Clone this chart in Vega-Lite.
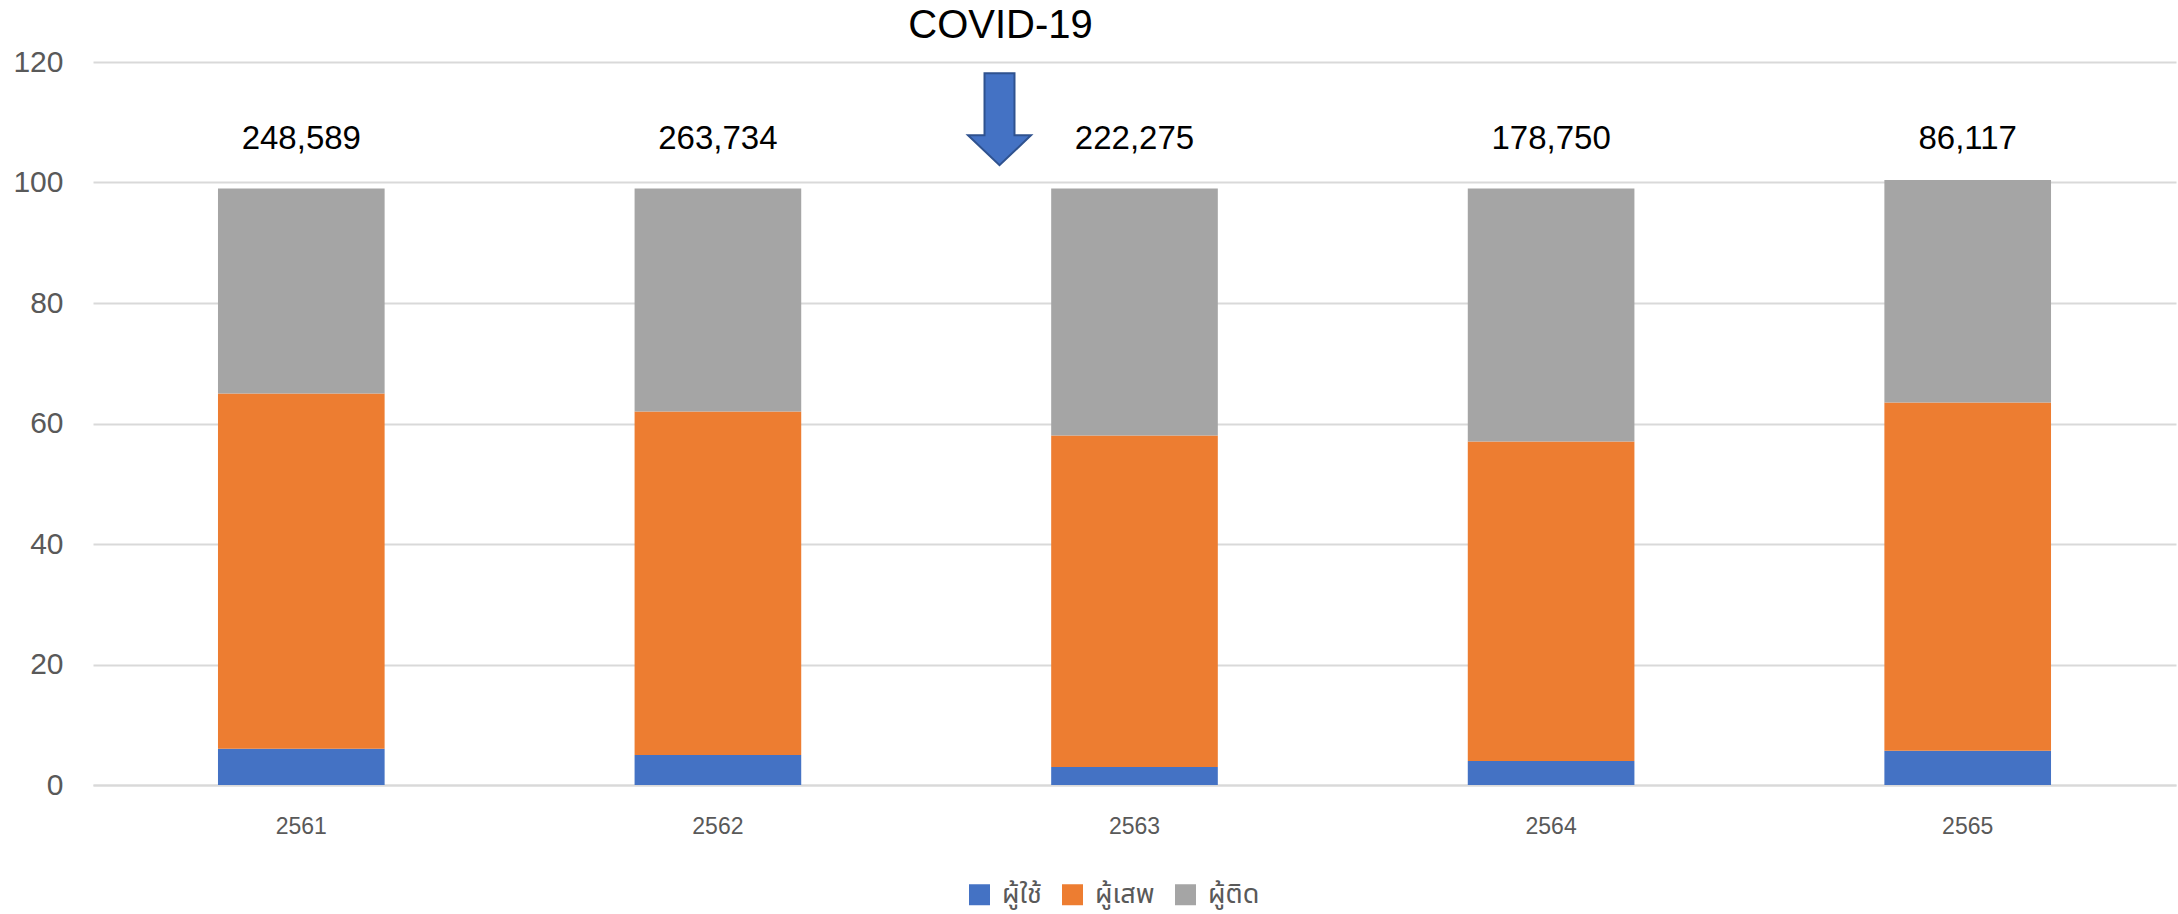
{
  "$schema": "https://vega.github.io/schema/vega-lite/v6.json",
  "autosize": "none",
  "width": 2083,
  "height": 723,
  "padding": {"left": 93, "top": 62, "right": 2, "bottom": 129},
  "background": "white",
  "datasets": {
    "parts": [
      {"year": "2561", "group": "ผู้ใช้", "rank": 1, "value": 6.0},
      {"year": "2561", "group": "ผู้เสพ", "rank": 2, "value": 59.0},
      {"year": "2561", "group": "ผู้ติด", "rank": 3, "value": 34.0},
      {"year": "2562", "group": "ผู้ใช้", "rank": 1, "value": 5.0},
      {"year": "2562", "group": "ผู้เสพ", "rank": 2, "value": 57.0},
      {"year": "2562", "group": "ผู้ติด", "rank": 3, "value": 37.0},
      {"year": "2563", "group": "ผู้ใช้", "rank": 1, "value": 3.0},
      {"year": "2563", "group": "ผู้เสพ", "rank": 2, "value": 55.0},
      {"year": "2563", "group": "ผู้ติด", "rank": 3, "value": 41.0},
      {"year": "2564", "group": "ผู้ใช้", "rank": 1, "value": 4.0},
      {"year": "2564", "group": "ผู้เสพ", "rank": 2, "value": 53.0},
      {"year": "2564", "group": "ผู้ติด", "rank": 3, "value": 42.0},
      {"year": "2565", "group": "ผู้ใช้", "rank": 1, "value": 5.7},
      {"year": "2565", "group": "ผู้เสพ", "rank": 2, "value": 57.8},
      {"year": "2565", "group": "ผู้ติด", "rank": 3, "value": 36.9}
    ],
    "totals": [
      {"year": "2561", "total": "248,589"},
      {"year": "2562", "total": "263,734"},
      {"year": "2563", "total": "222,275"},
      {"year": "2564", "total": "178,750"},
      {"year": "2565", "total": "86,117"}
    ],
    "note": [
      {"year": "2563", "label": "COVID-19"}
    ]
  },
  "config": {
    "view": {"stroke": null},
    "axis": {"labelFont": "Liberation Sans Narrow, Liberation Sans, sans-serif", "labelColor": "#595959"}
  },
  "layer": [
    {
      "data": {"name": "parts"},
      "mark": {"type": "bar"},
      "encoding": {
        "x": {
          "field": "year", "type": "nominal", "title": null,
          "scale": {"paddingInner": 0.6, "paddingOuter": 0.3},
          "axis": {"labelAngle": 0, "labelFontSize": 23, "labelPadding": 30, "ticks": false, "domain": true, "domainColor": "#D9D9D9", "domainWidth": 2, "grid": false}
        },
        "y": {
          "field": "value", "type": "quantitative", "stack": "zero", "title": null,
          "scale": {"domain": [0, 120], "nice": false},
          "axis": {"values": [0, 20, 40, 60, 80, 100, 120], "labelFontSize": 30, "labelPadding": 30, "ticks": false, "domain": false, "grid": true, "gridColor": "#D9D9D9", "gridWidth": 2}
        },
        "color": {
          "field": "group", "type": "nominal",
          "scale": {"domain": ["ผู้ใช้", "ผู้เสพ", "ผู้ติด"], "range": ["#4472C4", "#ED7D31", "#A5A5A5"]},
          "legend": {
            "title": null, "orient": "none", "direction": "horizontal",
            "legendX": 873, "legendY": 819,
            "symbolType": "square", "symbolSize": 441, "symbolStrokeWidth": 0,
            "labelFontSize": 27, "labelColor": "#595959", "labelFont": "Noto Sans Thai, Noto Sans, sans-serif",
            "labelOffset": 9, "columnPadding": 17
          }
        },
        "order": {"field": "rank", "type": "quantitative", "sort": "ascending"}
      }
    },
    {
      "data": {"name": "totals"},
      "mark": {"type": "text", "font": "Liberation Sans", "fontSize": 33, "color": "#000000", "baseline": "middle", "align": "center"},
      "encoding": {
        "x": {"field": "year", "type": "nominal"},
        "y": {"datum": 107.2},
        "text": {"field": "total"}
      }
    },
    {
      "data": {"name": "note"},
      "mark": {
        "type": "point", "filled": true, "opacity": 1,
        "shape": "M -0.326 -1 L 0.326 -1 L 0.326 0.348 L 0.685 0.348 L 0 1 L -0.685 0.348 L -0.326 0.348 Z",
        "size": 8464, "fill": "#4472C4", "stroke": "#2F528F", "strokeWidth": 2, "xOffset": -135
      },
      "encoding": {
        "x": {"field": "year", "type": "nominal"},
        "y": {"datum": 110.5}
      }
    },
    {
      "data": {"name": "note"},
      "mark": {"type": "text", "font": "Liberation Sans", "fontSize": 40, "color": "#000000", "baseline": "middle", "align": "center", "xOffset": -134},
      "encoding": {
        "x": {"field": "year", "type": "nominal"},
        "y": {"datum": 125.9},
        "text": {"field": "label"}
      }
    }
  ]
}
